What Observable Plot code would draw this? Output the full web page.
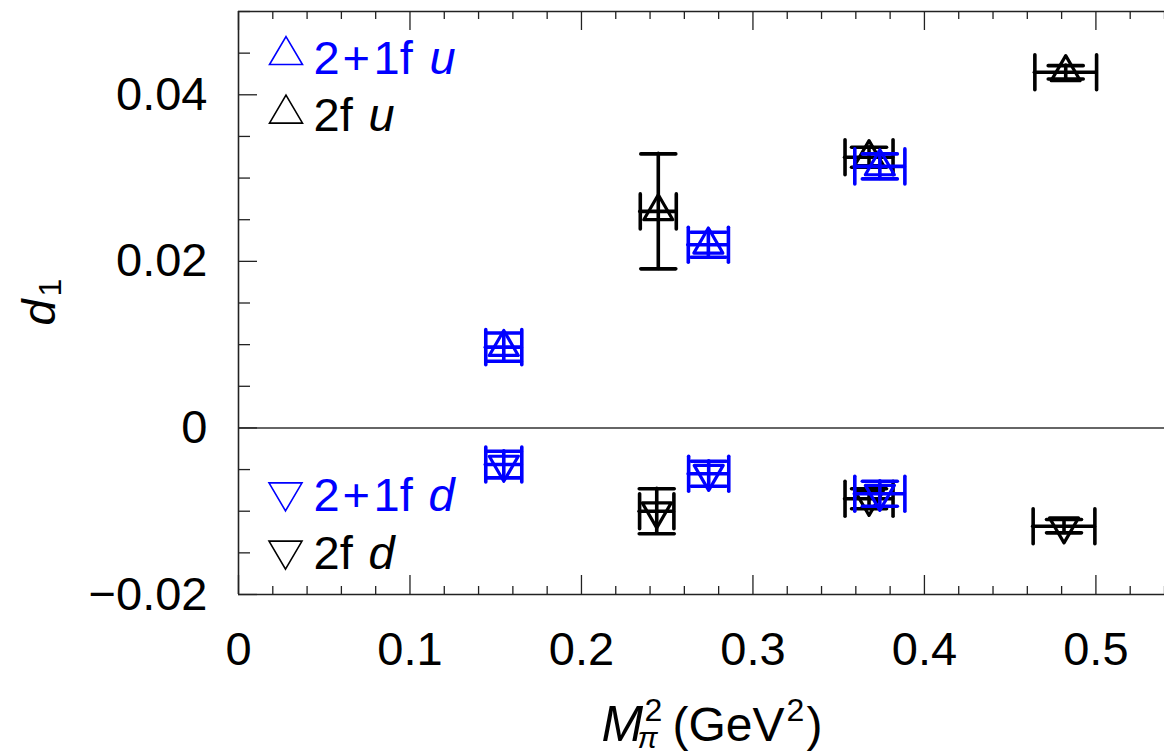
<!DOCTYPE html>
<html><head><meta charset="utf-8">
<script src="https://cdn.jsdelivr.net/npm/d3@7"></script>
<script src="https://cdn.jsdelivr.net/npm/@observablehq/plot@0.6"></script>
<style>body{margin:0;background:#fff;}</style>
</head><body><div id="chart"></div>
<script>
// ---- tick values & labels ----
const xTicks = [0, 0.1, 0.2, 0.3, 0.4, 0.5];
const xTickLabels = ["0", "0.1", "0.2", "0.3", "0.4", "0.5"];
const xMinor = [0.02, 0.04, 0.06, 0.08, 0.12, 0.14, 0.16, 0.18, 0.22, 0.24, 0.26, 0.28,
                0.32, 0.34, 0.36, 0.38, 0.42, 0.44, 0.46, 0.48, 0.52, 0.54];
const yTicks = [-0.02, 0, 0.02, 0.04];
const yTickLabels = ["\u22120.02", "0", "0.02", "0.04"];
const yMinor = [-0.015, -0.01, -0.005, 0.005, 0.01, 0.015, 0.025, 0.03, 0.035, 0.045, 0.05];

// ---- data: 2+1f u (blue, triangle up) ----
const u21_x  = [0.1547, 0.2740, 0.3740];
const u21_y  = [0.0097, 0.0220, 0.0314];
const u21_ex = [0.0105, 0.0117, 0.0146];
const u21_ey = [0.0017, 0.0015, 0.0015];
// ---- 2f u (black, triangle up) ----
const u2_x  = [0.2448, 0.3677, 0.4824];
const u2_y  = [0.0260, 0.0325, 0.0427];
const u2_ex = [0.0105, 0.0140, 0.0180];
const u2_ey = [0.0069, 0.0012, 0.0008];
// ---- 2+1f d (blue, triangle down) ----
const d21_x  = [0.1547, 0.2742, 0.3740];
const d21_y  = [-0.0044, -0.0055, -0.0079];
const d21_ex = [0.0105, 0.0117, 0.0146];
const d21_ey = [0.0016, 0.0015, 0.0015];
// ---- 2f d (black, triangle down) ----
const d2_x  = [0.2439, 0.3677, 0.4814];
const d2_y  = [-0.0100, -0.0085, -0.0118];
const d2_ex = [0.0100, 0.0140, 0.0180];
const d2_ey = [0.0027, 0.0012, 0.0008];

function rows(xs, ys, exs, eys, color, dir) {
  return xs.map((x, i) => ({x, y: ys[i], ex: exs[i], ey: eys[i], color, dir}));
}
const black = [...rows(u2_x, u2_y, u2_ex, u2_ey, "#000000", "up"),
               ...rows(d2_x, d2_y, d2_ex, d2_ey, "#000000", "down")];
const blue  = [...rows(u21_x, u21_y, u21_ex, u21_ey, "#0000ff", "up"),
               ...rows(d21_x, d21_y, d21_ex, d21_ey, "#0000ff", "down")];

// ---- symbols ----
function tri(a, h, up) {
  return {draw(ctx) {
    const s = up ? 1 : -1;
    ctx.moveTo(0, -s * 2 * h / 3);
    ctx.lineTo(a, s * h / 3);
    ctx.lineTo(-a, s * h / 3);
    ctx.closePath();
  }};
}
const triUp = tri(14.5, 25, true), triDown = tri(14.5, 25, false);
const legUp = tri(16.5, 28, true), legDown = tri(16.5, 28, false);
const vcap = {draw(ctx) { ctx.moveTo(0, -17.5); ctx.lineTo(0, 17.5); }};
const hcap = {draw(ctx) { ctx.moveTo(-17.5, 0); ctx.lineTo(17.5, 0); }};

const FONT = "Liberation Sans, Arial, Helvetica, sans-serif";
const PW = 926, PH = 583;

function seriesMarks(data) {
  const st = {stroke: "color", strokeWidth: 3.6, strokeLinecap: "round"};
  return [
    Plot.ruleY(data, {y: "y", x1: d => d.x - d.ex, x2: d => d.x + d.ex, ...st}),
    Plot.ruleX(data, {x: "x", y1: d => d.y - d.ey, y2: d => d.y + d.ey, ...st}),
    Plot.dot(data, {x: d => d.x - d.ex, y: "y", symbol: vcap, fill: "none", ...st}),
    Plot.dot(data, {x: d => d.x + d.ex, y: "y", symbol: vcap, fill: "none", ...st}),
    Plot.dot(data, {x: "x", y: d => d.y - d.ey, symbol: hcap, fill: "none", ...st}),
    Plot.dot(data, {x: "x", y: d => d.y + d.ey, symbol: hcap, fill: "none", ...st}),
    Plot.dot(data.filter(d => d.dir === "up"), {x: "x", y: "y", symbol: triUp, fill: "none", stroke: "color", strokeWidth: 3.2, strokeLinejoin: "round"}),
    Plot.dot(data.filter(d => d.dir === "down"), {x: "x", y: "y", symbol: triDown, fill: "none", stroke: "color", strokeWidth: 3.2, strokeLinejoin: "round"})
  ];
}

// text piece helper, positions relative to frame top-left (238, 11)
function piece(txt, ax, ay, opts = {}) {
  return Plot.text([txt], {text: d => d, frameAnchor: "top-left", dx: ax - 238, dy: ay - 11,
    textAnchor: "start", lineAnchor: "bottom", fontSize: 47, ...opts});
}

const legend = [
  Plot.dot([0], {frameAnchor: "top-left", dx: 285.5 - 238, dy: 54.7 - 11, symbol: legUp, fill: "none", stroke: "#0000ff", strokeWidth: 1.6}),
  Plot.dot([0], {frameAnchor: "top-left", dx: 285.5 - 238, dy: 113.3 - 11, symbol: legUp, fill: "none", stroke: "#000", strokeWidth: 1.6}),
  Plot.dot([0], {frameAnchor: "top-left", dx: 285 - 238, dy: 491.7 - 11, symbol: legDown, fill: "none", stroke: "#0000ff", strokeWidth: 1.6}),
  Plot.dot([0], {frameAnchor: "top-left", dx: 285 - 238, dy: 550 - 11, symbol: legDown, fill: "none", stroke: "#000", strokeWidth: 1.6}),
  piece("2", 313, 73, {fill: "#0000ff"}),
  piece("+", 342, 73, {fill: "#0000ff"}),
  piece("1f", 373, 73, {fill: "#0000ff"}),
  piece("u", 429, 73, {fill: "#0000ff", fontStyle: "italic"}),
  piece("2f", 313, 130, {fill: "#000"}),
  piece("u", 368, 130, {fill: "#000", fontStyle: "italic"}),
  piece("2", 313, 510, {fill: "#0000ff"}),
  piece("+", 342, 510, {fill: "#0000ff"}),
  piece("1f", 373, 510, {fill: "#0000ff"}),
  piece("d", 428, 510, {fill: "#0000ff", fontStyle: "italic"}),
  piece("2f", 313, 568, {fill: "#000"}),
  piece("d", 368, 568, {fill: "#000", fontStyle: "italic"})
];

const axisLabels = [
  // y label: d_1 rotated
  piece("d", 54, 325, {fontStyle: "italic", rotate: -90}),
  piece("1", 60, 296, {fontSize: 32, rotate: -90}),
  // x label: M_pi^2 (GeV^2)
  piece("M", 601, 740, {fontStyle: "italic", fontSize: 50}),
  piece("2", 644, 720, {fontSize: 32}),
  piece("\u03c0", 637, 747, {fontStyle: "italic", fontSize: 30}),
  piece("(GeV", 672, 740, {fontSize: 48}),
  piece("2", 786, 720, {fontSize: 32}),
  piece(")", 806, 740, {fontSize: 48})
];

const frameStyle = {stroke: "#222", strokeWidth: 1.6};

const chart = Plot.plot({
  width: 1164, height: 755,
  marginLeft: 238, marginRight: 0, marginTop: 11, marginBottom: 161,
  x: {domain: [0, 0.54]},
  y: {domain: [-0.02, 0.05]},
  style: {fontFamily: FONT, background: "#fff", color: "#000", overflow: "visible"},
  marks: [
    // zero line
    Plot.ruleY([0], {stroke: "#333", strokeWidth: 1.4}),
    // frame
    Plot.ruleX([0], frameStyle),
    Plot.ruleY([-0.02], frameStyle),
    Plot.ruleY([0.05], frameStyle),
    // ticks (inward)
    Plot.tickY(yTicks, {y: d => d, insetRight: PW - 19, stroke: "#222", strokeWidth: 1.3}),
    Plot.tickY(yMinor, {y: d => d, insetRight: PW - 12, stroke: "#222", strokeWidth: 1.3}),
    Plot.tickX(xTicks, {x: d => d, insetBottom: PH - 19, stroke: "#222", strokeWidth: 1.3}),
    Plot.tickX(xMinor, {x: d => d, insetBottom: PH - 8, stroke: "#222", strokeWidth: 1.3}),
    Plot.tickX(xTicks, {x: d => d, insetTop: PH - 19, stroke: "#222", strokeWidth: 1.3}),
    Plot.tickX(xMinor, {x: d => d, insetTop: PH - 8, stroke: "#222", strokeWidth: 1.3}),
    // tick labels
    Plot.axisX({ticks: xTicks, tickSize: 0, tickPadding: 37.6, fontSize: 47,
      tickFormat: d => xTickLabels[xTicks.indexOf(d)], label: null}),
    Plot.axisY({ticks: yTicks, tickSize: 0, tickPadding: 31, fontSize: 47,
      tickFormat: d => yTickLabels[yTicks.indexOf(d)], label: null}),
    // data
    ...seriesMarks(black),
    ...seriesMarks(blue),
    ...legend,
    ...axisLabels
  ]
});
document.getElementById("chart").appendChild(chart);
</script>
</body></html>
